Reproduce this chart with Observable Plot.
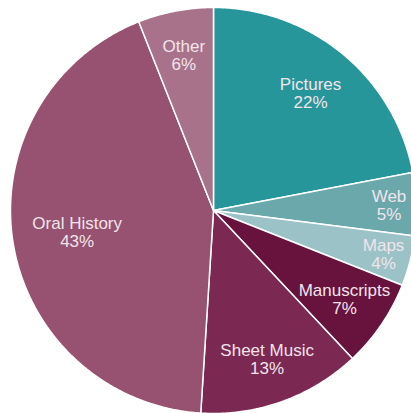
<!DOCTYPE html>
<html>
<head>
<meta charset="utf-8">
<script src="https://cdn.jsdelivr.net/npm/d3@7"></script>
<script src="https://cdn.jsdelivr.net/npm/@observablehq/plot@0.6"></script>
<style>
  html, body { margin: 0; padding: 0; background: #fff; }
  #chart svg { display: block; }
</style>
</head>
<body>
<div id="chart"></div>
<script>
// Data (clockwise from 12 o'clock)
const categories = ["Pictures", "Web", "Maps", "Manuscripts", "Sheet Music", "Oral History", "Other"];
const shares = [22, 5, 4, 7, 13, 43, 6];
const sliceColors = ["#27969a", "#6aa8ac", "#9bc3c7", "#68123e", "#7b2952", "#965270", "#a8728b"];

const W = 411, H = 413;
const R = 1; // unit radius
// view window in data units (pie centre at 0,0)
const pxPerUnit = 203;
const cx = 213, cy = 210;
const xDomain = [-cx / pxPerUnit, (W - cx) / pxPerUnit];
const yDomain = [-(H - cy) / pxPerUnit, cy / pxPerUnit];

const arcs = d3.pie().sort(null).value(d => d.value)(
  categories.map((c, i) => ({category: c, value: shares[i]}))
);

// Build slice outlines from the pie angles (0 = top, clockwise)
const pt = (a, r) => ({x: r * Math.sin(a), y: r * Math.cos(a)});
const outline = [];
arcs.forEach(a => {
  const c = a.data.category;
  outline.push({category: c, ...pt(0, 0)});
  const n = Math.max(4, Math.ceil((a.endAngle - a.startAngle) / (Math.PI / 360)));
  for (let k = 0; k <= n; k++) {
    const t = a.startAngle + (a.endAngle - a.startAngle) * k / n;
    outline.push({category: c, ...pt(t, R)});
  }
});

const labels = arcs.map(a => {
  const v = a.data.value;
  const lr = v >= 40 ? 0.68 : v <= 5 ? 0.865 : v >= 20 ? 0.75 : 0.78;
  const mid = (a.startAngle + a.endAngle) / 2;
  return {category: a.data.category, text: `${a.data.category}\n${v}%`, ...pt(mid, lr)};
});

const chart = Plot.plot({
  width: W,
  height: H,
  margin: 0,
  x: {domain: xDomain, axis: null},
  y: {domain: yDomain, axis: null},
  color: {domain: categories, range: sliceColors},
  style: {fontFamily: "'Liberation Sans', Arial, sans-serif"},
  marks: [
    Plot.line(outline, {
      x: "x", y: "y", z: "category", fill: "category",
      stroke: "white", strokeWidth: 1.5, curve: "linear-closed", clip: true
    }),
    Plot.text(labels, {
      x: "x", y: "y", text: "text", fill: "#f1e4ea",
      fontSize: 17, lineHeight: 1.06, textAnchor: "middle"
    })
  ]
});
document.getElementById("chart").appendChild(chart);
</script>
</body>
</html>
